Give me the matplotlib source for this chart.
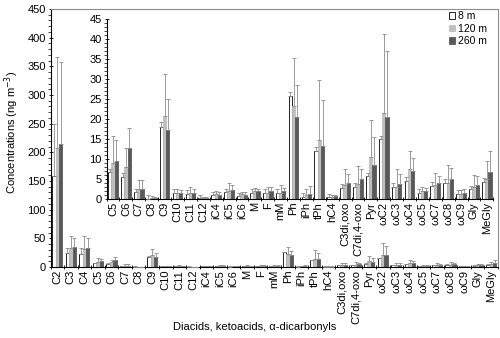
import numpy as np
import matplotlib
matplotlib.use("Agg")
import matplotlib.pyplot as plt
from matplotlib.ticker import MultipleLocator, FixedLocator

plt.rcParams['font.family'] = ['Liberation Sans', 'DejaVu Sans']

categories = ['C2', 'C3', 'C4', 'C5', 'C6', 'C7', 'C8', 'C9', 'C10', 'C11', 'C12',
              'iC4', 'iC5', 'iC6', 'M', 'F', 'mM', 'Ph', 'iPh', 'tPh', 'hC4',
              'C3di,oxo', 'C7di,4-oxo', 'Pyr', 'ωC2', 'ωC3', 'ωC4', 'ωC5', 'ωC7',
              'ωC8', 'ωC9', 'Gly', 'MeGly']

# mean concentrations (ng m-3)
m8 = [158, 24, 22.5, 6.7, 5.4, 1.7, 0.1, 18.1, 1.4, 1.3, 0.2,
      0.9, 1.7, 0.75, 1.4, 1.4, 1.4, 25.7, 0.6, 12.0, 0.5,
      2.8, 3.1, 5.7, 14.9, 2.9, 4.6, 1.4, 3.25, 4.1, 1.25, 2.4, 4.3]
m120 = [207, 33, 31, 9.0, 8.1, 2.5, 0.3, 20.8, 1.6, 1.4, 0.3,
        1.2, 2.0, 1.2, 2.0, 1.6, 1.6, 23.3, 1.0, 14.7, 0.5,
        3.5, 3.8, 10.5, 21.4, 3.0, 7.4, 2.0, 3.5, 4.1, 1.2, 3.0, 5.0]
m260 = [215, 35, 32.5, 9.6, 12.7, 2.5, 0.3, 17.3, 1.5, 1.4, 0.3,
        1.0, 2.3, 1.1, 2.0, 2.0, 2.0, 20.6, 1.2, 13.25, 0.7,
        4.0, 5.1, 8.5, 20.4, 3.7, 7.0, 2.0, 4.1, 5.0, 1.4, 3.4, 6.8]

# standard deviations (upper error bars)
sd8 = [91, 10, 10, 0.8, 1.0, 0.9, 1.0, 1.1, 1.0, 0.9, 0.8,
       0.9, 0.7, 0.65, 1.0, 1.0, 1.0, 1.0, 0.9, 0.9, 0.7,
       0.95, 1.0, 0.9, 0.9, 1.0, 1.0, 1.0, 1.05, 0.9, 1.0, 0.9, 0.9]
sd120 = [159, 21.5, 22.5, 6.8, 4.6, 2.2, 0.5, 10.4, 1.0, 1.5, 0.3,
         0.8, 2.0, 0.6, 0.8, 1.4, 1.8, 12.0, 1.4, 15.0, 0.5,
         4.0, 4.4, 9.2, 19.8, 4.4, 4.6, 0.9, 3.1, 4.4, 1.1, 3.0, 4.5]
sd260 = [142, 16, 17.5, 5.2, 5.0, 2.2, 0.3, 7.7, 0.8, 1.0, 0.2,
         0.7, 1.3, 0.7, 0.6, 0.9, 0.8, 7.9, 2.1, 11.5, 0.4,
         2.2, 2.5, 6.9, 16.5, 2.55, 3.2, 0.75, 1.65, 2.7, 1.2, 2.35, 5.3]

series = [('8 m', m8, sd8, 'white', 'black'),
          ('120 m', m120, sd120, '#bfbfbf', '#bfbfbf'),
          ('260 m', m260, sd260, '#595959', '#595959')]

W, H = 500, 338
fig = plt.figure(figsize=(W / 100, H / 100), dpi=100)


def draw_bars(ax, start, fs):
    x = np.arange(len(categories) - start)
    bw = 0.25
    handles = []
    for k, (lab, m, sd, fc, ec) in enumerate(series):
        vals = np.array(m[start:])
        err = np.array(sd[start:])
        b = ax.bar(x + (k - 1) * bw, vals, bw, color=fc, edgecolor=ec,
                   linewidth=0.6, label=lab, zorder=2)
        ax.errorbar(x + (k - 1) * bw, vals, yerr=[np.zeros_like(err), err],
                    fmt='none', ecolor='#8c8c8c', elinewidth=0.6,
                    capsize=1.3, capthick=0.6, zorder=3)
        handles.append(b)
    ax.set_xlim(-0.5, len(x) - 0.5)
    ax.set_xticks(x)
    ax.set_xticklabels(categories[start:], rotation=90, fontsize=fs)
    ax.xaxis.set_minor_locator(FixedLocator(np.arange(-0.5, len(x), 1.0)))
    ax.tick_params(axis='x', which='major', length=0, pad=2)
    ax.tick_params(axis='x', which='minor', length=3, direction='inout', width=0.6)
    ax.tick_params(axis='y', which='major', labelsize=fs, length=3, width=0.6,
                   direction='inout', pad=2)
    ax.tick_params(axis='y', which='minor', length=2, width=0.5, direction='out')
    return handles


# main axes
ax = fig.add_axes([50.5 / W, 1 - 267 / H, (498 - 50.5) / W, (267 - 9) / H])
handles = draw_bars(ax, 0, 8)
ax.set_ylim(0, 450)
ax.yaxis.set_major_locator(MultipleLocator(50))
ax.yaxis.set_minor_locator(MultipleLocator(10))
for s in ['top', 'right']:
    ax.spines[s].set_color('#8c8c8c')
    ax.spines[s].set_linewidth(0.8)
for s in ['left', 'bottom']:
    ax.spines[s].set_linewidth(0.8)

# inset
axi = fig.add_axes([106.6 / W, 1 - 199 / H, (493.3 - 106.6) / W, (199 - 19) / H])
draw_bars(axi, 3, 8)
axi.set_ylim(0, 45)
axi.yaxis.set_major_locator(MultipleLocator(5))
axi.yaxis.set_minor_locator(MultipleLocator(1))
axi.patch.set_alpha(0)
for s in ['top', 'right']:
    axi.spines[s].set_visible(False)
for s in ['left', 'bottom']:
    axi.spines[s].set_linewidth(0.8)

fig.legend(handles=handles, loc='upper left', bbox_to_anchor=(449 / W, 1 - 11 / H),
           frameon=False, fontsize=7.5, handlelength=0.6, handleheight=0.6,
           handletextpad=0.25, labelspacing=0.25, borderpad=0, borderaxespad=0)

fig.text(12 / W, 1 - 132 / H, 'Concentrations (ng m$^{-3}$)', rotation=90,
         ha='center', va='center', fontsize=8)
fig.text(255 / W, 1 - 327 / H, 'Diacids, ketoacids, α-dicarbonyls',
         ha='center', va='center', fontsize=8)

fig.savefig('out.png', dpi=100)
